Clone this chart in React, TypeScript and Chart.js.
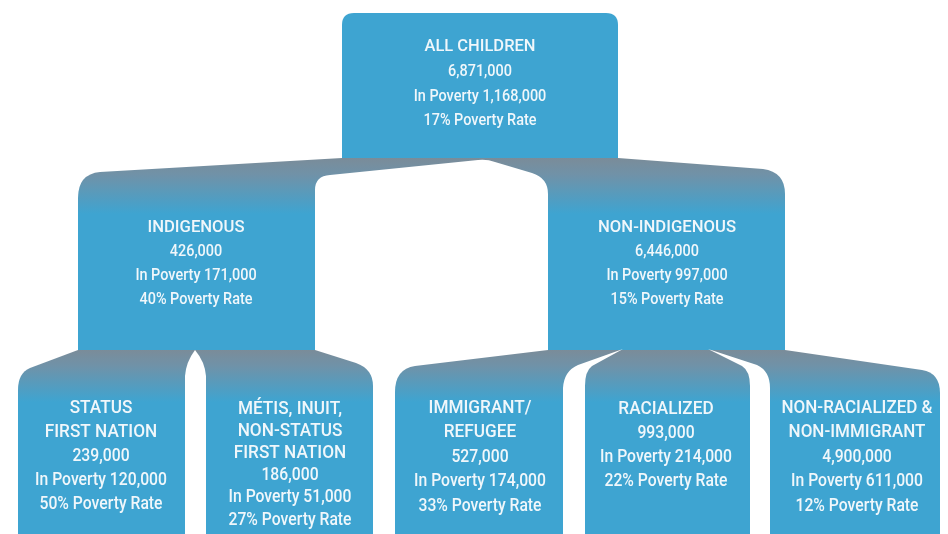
import React, { useEffect, useRef } from "react";
import { Chart, registerables } from "chart.js";

Chart.register(...registerables);

// ---------- data ----------
const nodeTitles: string[][] = [
  ["ALL CHILDREN"],
  ["INDIGENOUS"],
  ["NON-INDIGENOUS"],
  ["STATUS", "FIRST NATION"],
  ["MÉTIS, INUIT,", "NON-STATUS", "FIRST NATION"],
  ["IMMIGRANT/", "REFUGEE"],
  ["RACIALIZED"],
  ["NON-RACIALIZED &", "NON-IMMIGRANT"],
];
const childCounts = [6871000, 426000, 6446000, 239000, 186000, 527000, 993000, 4900000];
const inPovertyCounts = [1168000, 171000, 997000, 120000, 51000, 174000, 214000, 611000];
const povertyRates = [17, 40, 15, 50, 27, 33, 22, 12];
const parentOf = [-1, 0, 0, 1, 1, 2, 2, 2];

// ---------- layout (data units = page pixels) ----------
const textCenterX = [480, 196, 667, 101, 290, 480, 666, 857];
const firstLineY = [46, 227, 227, 407, 408, 407, 408, 407];
const lineGap = [24.7, 24, 24, 24, 22.2, 24.5, 24, 24.5];
const fontPx = [17, 17, 17, 18.5, 18.5, 18.5, 18.5, 18.5];
const titleCondense = [0.97, 0.98, 0.98, 0.93, 0.93, 0.93, 0.93, 0.92];
const CONDENSE = 0.85;

const BLUE = "rgb(62,164,209)";
const GREY = "rgb(122,140,153)";
const TEXT = "rgb(240,247,251)";

type Cmd = ["M" | "L", number, number] | ["Q", number, number, number, number];

// top box
const rootBox: Cmd[] = [
  ["M", 342, 159], ["L", 342, 25], ["Q", 342, 13, 354, 13], ["L", 606, 13],
  ["Q", 618, 13, 618, 25], ["L", 618, 159],
];
// fan from root to level 1
const fan1: Cmd[] = [
  ["M", 342, 158], ["L", 100, 172], ["Q", 78, 174, 78, 198], ["L", 78, 351],
  ["L", 785, 351], ["L", 785, 194], ["Q", 785, 172, 763, 169], ["L", 618, 158],
];
const gap1: Cmd[] = [
  ["M", 315, 351], ["L", 315, 190], ["Q", 315, 176, 330, 175], ["L", 478, 160],
  ["Q", 487, 159, 495, 162], ["L", 532, 173], ["Q", 548, 178, 548, 194], ["L", 548, 351],
];
// fan from Indigenous
const fan2a: Cmd[] = [
  ["M", 78, 350], ["L", 30, 368], ["Q", 18, 373, 18, 390], ["L", 18, 534],
  ["L", 373, 534], ["L", 373, 386], ["Q", 373, 369, 356, 363], ["L", 315, 350],
];
const gap2a: Cmd[] = [
  ["M", 185, 534], ["L", 185, 376], ["Q", 186, 362, 195, 350],
  ["Q", 205, 362, 206, 376], ["L", 206, 534],
];
// fan from Non-Indigenous
const fan2b: Cmd[] = [
  ["M", 548, 350], ["L", 415, 366], ["Q", 395, 369, 395, 392], ["L", 395, 534],
  ["L", 940, 534], ["L", 940, 393], ["Q", 940, 373, 922, 370], ["L", 785, 350],
];
const gap2b: Cmd[] = [
  ["M", 563, 534], ["L", 563, 388], ["Q", 564, 371, 578, 365], ["L", 623, 349],
  ["L", 592, 366], ["Q", 585, 371, 585, 386], ["L", 585, 534],
];
const gap2c: Cmd[] = [
  ["M", 750, 534], ["L", 750, 386], ["Q", 750, 371, 742, 366], ["L", 708, 349],
  ["L", 757, 365], ["Q", 770, 371, 770, 388], ["L", 770, 534],
];

const fmt = (n: number) => n.toLocaleString("en-US");

const treePlugin = {
  id: "tree",
  afterDatasetsDraw(chart: any) {
    const ctx: CanvasRenderingContext2D = chart.ctx;
    const xs = chart.scales.x;
    const ys = chart.scales.y;
    const X = (v: number) => xs.getPixelForValue(v);
    const Y = (v: number) => ys.getPixelForValue(v);

    const path = (cmds: Cmd[]) => {
      ctx.beginPath();
      for (const c of cmds) {
        if (c[0] === "M") ctx.moveTo(X(c[1]), Y(c[2]));
        else if (c[0] === "L") ctx.lineTo(X(c[1]), Y(c[2]));
        else ctx.quadraticCurveTo(X(c[1]), Y(c[2]), X(c[3]), Y(c[4]));
      }
      ctx.closePath();
    };
    const grad = (y0: number, y1: number) => {
      const g = ctx.createLinearGradient(0, Y(y0), 0, Y(y1));
      g.addColorStop(0, GREY);
      g.addColorStop(0.3, "rgb(112,146,168)");
      g.addColorStop(1, BLUE);
      return g;
    };

    ctx.save();
    ctx.fillStyle = "#ffffff";
    ctx.fillRect(0, 0, chart.width, chart.height);

    path(rootBox);
    ctx.fillStyle = BLUE;
    ctx.fill();

    path(fan1);
    ctx.fillStyle = grad(158, 214);
    ctx.fill();
    path(gap1);
    ctx.fillStyle = "#ffffff";
    ctx.fill();

    path(fan2a);
    ctx.fillStyle = grad(350, 402);
    ctx.fill();
    path(fan2b);
    ctx.fillStyle = grad(350, 402);
    ctx.fill();
    ctx.fillStyle = "#ffffff";
    for (const g of [gap2a, gap2b, gap2c]) {
      path(g);
      ctx.fill();
    }

    // labels
    ctx.fillStyle = TEXT;
    ctx.textAlign = "center";
    ctx.textBaseline = "middle";
    nodeTitles.forEach((title, i) => {
      const lines = [
        ...title,
        fmt(childCounts[i]),
        "In Poverty " + fmt(inPovertyCounts[i]),
        povertyRates[i] + "% Poverty Rate",
      ];
      ctx.font = `500 ${fontPx[i]}px Roboto, 'Noto Sans', sans-serif`;
      lines.forEach((t, k) => {
        ctx.save();
        ctx.translate(X(textCenterX[i]), Y(firstLineY[i] + 1 + k * lineGap[i]));
        ctx.scale(k < title.length ? titleCondense[i] : CONDENSE, 1);
        ctx.fillText(t, 0, 0);
        ctx.restore();
      });
    });
    ctx.restore();
  },
};

export default function App() {
  const ref = useRef<HTMLCanvasElement | null>(null);
  useEffect(() => {
    document.body.style.margin = "0";
    const chart = new Chart(ref.current as HTMLCanvasElement, {
      type: "scatter",
      data: {
        datasets: [
          {
            label: "nodes",
            data: textCenterX.map((x, i) => ({ x, y: firstLineY[i], parent: parentOf[i] })) as any,
            pointRadius: 0,
            pointHoverRadius: 0,
          },
        ],
      },
      options: {
        animation: false,
        responsive: true,
        maintainAspectRatio: false,
        layout: { padding: 0 },
        events: [],
        plugins: { legend: { display: false }, tooltip: { enabled: false } },
        scales: {
          x: { type: "linear", min: 0, max: 948, display: false },
          y: { type: "linear", min: 0, max: 534, reverse: true, display: false },
        },
      },
      plugins: [treePlugin],
    });
    return () => chart.destroy();
  }, []);
  return (
    <div style={{ position: "fixed", left: 0, top: 0, width: 948, height: 534 }}>
      <canvas ref={ref} />
    </div>
  );
}
